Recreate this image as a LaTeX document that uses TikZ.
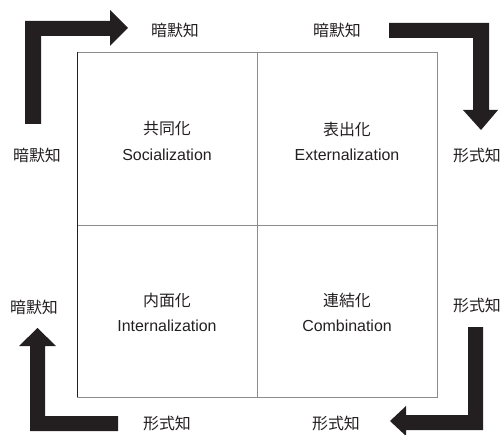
\documentclass[tikz,border=0pt]{standalone}
\usepackage{fontspec}
\setmainfont{Liberation Sans}
\newfontfamily\jp{Noto Sans CJK JP}
\definecolor{ink}{HTML}{231F20}
\definecolor{gridgray}{HTML}{8C8C8C}
\begin{document}
\begin{tikzpicture}[x=1bp,y=-1bp,
  lbl/.style={text=ink,font=\jp\fontsize{16}{18}\selectfont,inner sep=0pt},
  en/.style={text=ink,font=\fontsize{16}{18}\selectfont,inner sep=0pt},
  bigarrow/.style={fill=ink,draw=none},
  gridline/.style={draw=gridgray,line width=0.9bp}]
\useasboundingbox (0,0) rectangle (503,435);
% grid
\coordinate (TL) at (77,52);
\coordinate (TR) at (437,52);
\coordinate (BL) at (77,397);
\coordinate (BR) at (437,397);
\coordinate (TM) at (257,52);
\coordinate (BM) at (257,397);
\coordinate (LM) at (77,225);
\coordinate (RM) at (437,225);
\draw[gridline] (TL) -- (TR) -- (BR) -- (BL);
\draw[gridline] (TM) -- (BM);
\draw[gridline] (LM) -- (RM);
\draw[draw=ink,line width=1bp] (TL) -- (BL);
% quadrant texts
\node[lbl] (soc) at (167,129) {共同化};
\node[en]  (socE) at (167,155) {Socialization};
\node[lbl] (ext) at (347,129) {表出化};
\node[en]  (extE) at (347,155) {Externalization};
\node[lbl] (int) at (167,300) {内面化};
\node[en]  (intE) at (167,326) {Internalization};
\node[lbl] (com) at (347,300) {連結化};
\node[en]  (comE) at (347,326) {Combination};
% outer labels
\node[lbl] (t1) at (175,30) {暗默知};
\node[lbl] (t2) at (337,30) {暗默知};
\node[lbl] (l1) at (37,155) {暗默知};
\node[lbl] (r1) at (477,155) {形式知};
\node[lbl] (l2) at (34,307) {暗默知};
\node[lbl] (r2) at (477,305) {形式知};
\node[lbl] (b1) at (167,423) {形式知};
\node[lbl] (b2) at (336,423) {形式知};
% arrows
\fill[bigarrow] (25,124) -- (25,21) -- (110,21) -- (110,10) -- (128,28) -- (110,46) -- (110,36) -- (41,36) -- (41,124) -- cycle;
\fill[bigarrow] (389,23) -- (489,23) -- (489,110) -- (498,110) -- (481,130) -- (463,110) -- (473,110) -- (473,38) -- (389,38) -- cycle;
\fill[bigarrow] (118,431) -- (30,431) -- (30,346) -- (19,346) -- (37.5,328) -- (56,346) -- (45,346) -- (45,416) -- (118,416) -- cycle;
\fill[bigarrow] (483,327) -- (483,430) -- (406,430) -- (406,436) -- (390,421) -- (406,406) -- (406,415) -- (468,415) -- (468,327) -- cycle;
\end{tikzpicture}
\end{document}
